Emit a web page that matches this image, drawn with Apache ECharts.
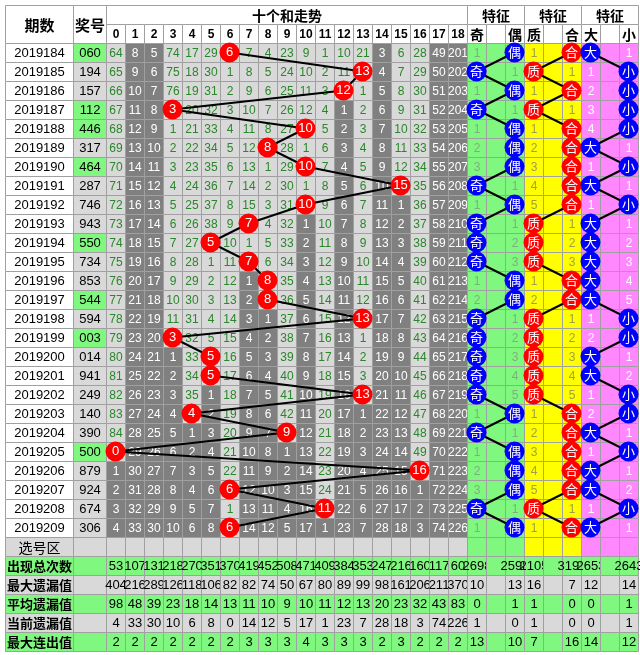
<!DOCTYPE html>
<html><head><meta charset="utf-8">
<script src="https://cdn.jsdelivr.net/npm/echarts@6/dist/echarts.min.js"></script>
<style>html,body{margin:0;padding:0;background:#fff}#c{width:640px;height:655px}</style>
</head><body><div id="c"></div>
<script>
// ---------------- data ----------------
const periods = ['2019184','2019185','2019186','2019187','2019188','2019189','2019190','2019191','2019192','2019193','2019194','2019195','2019196','2019197','2019198','2019199','2019200','2019201','2019202','2019203','2019204','2019205','2019206','2019207','2019208','2019209'];
const draws = ['060','194','157','112','446','317','464','287','746','943','550','734','853','544','594','003','014','941','249','140','390','500','879','924','674','306'];
const sums = [6,13,12,3,10,8,10,15,10,7,5,7,8,8,13,3,5,5,13,4,9,0,16,6,11,6];
const sumCols = ['0','1','2','3','4','5','6','7','8','9','10','11','12','13','14','15','16','17','18'];
const omission = [
[64,8,5,74,17,29,0,7,4,23,9,1,10,21,3,6,28,49,201],
[65,9,6,75,18,30,1,8,5,24,10,2,11,0,4,7,29,50,202],
[66,10,7,76,19,31,2,9,6,25,11,3,0,1,5,8,30,51,203],
[67,11,8,0,20,32,3,10,7,26,12,4,1,2,6,9,31,52,204],
[68,12,9,1,21,33,4,11,8,27,0,5,2,3,7,10,32,53,205],
[69,13,10,2,22,34,5,12,0,28,1,6,3,4,8,11,33,54,206],
[70,14,11,3,23,35,6,13,1,29,0,7,4,5,9,12,34,55,207],
[71,15,12,4,24,36,7,14,2,30,1,8,5,6,10,0,35,56,208],
[72,16,13,5,25,37,8,15,3,31,0,9,6,7,11,1,36,57,209],
[73,17,14,6,26,38,9,0,4,32,1,10,7,8,12,2,37,58,210],
[74,18,15,7,27,0,10,1,5,33,2,11,8,9,13,3,38,59,211],
[75,19,16,8,28,1,11,0,6,34,3,12,9,10,14,4,39,60,212],
[76,20,17,9,29,2,12,1,0,35,4,13,10,11,15,5,40,61,213],
[77,21,18,10,30,3,13,2,0,36,5,14,11,12,16,6,41,62,214],
[78,22,19,11,31,4,14,3,1,37,6,15,12,0,17,7,42,63,215],
[79,23,20,0,32,5,15,4,2,38,7,16,13,1,18,8,43,64,216],
[80,24,21,1,33,0,16,5,3,39,8,17,14,2,19,9,44,65,217],
[81,25,22,2,34,0,17,6,4,40,9,18,15,3,20,10,45,66,218],
[82,26,23,3,35,1,18,7,5,41,10,19,16,0,21,11,46,67,219],
[83,27,24,4,0,2,19,8,6,42,11,20,17,1,22,12,47,68,220],
[84,28,25,5,1,3,20,9,7,0,12,21,18,2,23,13,48,69,221],
[0,29,26,6,2,4,21,10,8,1,13,22,19,3,24,14,49,70,222],
[1,30,27,7,3,5,22,11,9,2,14,23,20,4,25,15,0,71,223],
[2,31,28,8,4,6,0,12,10,3,15,24,21,5,26,16,1,72,224],
[3,32,29,9,5,7,1,13,11,4,16,0,22,6,27,17,2,73,225],
[4,33,30,10,6,8,0,14,12,5,17,1,23,7,28,18,3,74,226]
];
const featureCols = ['奇','奇偶空','偶','质','质合空','合','大','大小空','小'];
const featureHeads = ['奇','','偶','质','','合','大','','小'];
const oeHit = ['偶','奇','偶','奇','偶','偶','偶','奇','偶','奇','奇','奇','偶','偶','奇','奇','奇','奇','奇','偶','奇','偶','偶','偶','奇','偶'];
const oeMiss = [1,1,1,1,1,2,3,1,1,1,2,3,1,2,1,2,3,4,5,1,1,1,2,3,1,1];
const pcHit = ['合','质','合','质','合','合','合','合','合','质','质','质','合','合','质','质','质','质','质','合','合','合','合','合','质','合'];
const pcMiss = [1,1,1,1,1,2,3,4,5,1,2,3,1,2,1,2,3,4,5,1,2,3,4,5,1,1];
const bsHit = ['大','小','小','小','小','大','小','大','小','大','大','大','大','大','小','小','大','大','小','小','大','小','大','大','小','大'];
const bsMiss = [1,1,2,3,4,1,1,1,1,1,2,3,4,5,1,2,1,2,1,2,1,1,1,2,1,1];
const statLabels = ['出现总次数','最大遗漏值','平均遗漏值','当前遗漏值','最大连出值'];
// 0..18, then 奇 偶 质 合 大 小
const statTotal = [53,107,131,218,270,351,370,419,452,508,471,409,384,353,247,216,160,117,60, 2698,2598,2105,3191,2653,2643];
const statMaxMiss = [404,216,289,126,118,106,82,82,74,50,67,80,89,99,98,161,206,211,370, 10,13,16,7,12,14];
const statAvgMiss = [98,48,39,23,18,14,13,11,10,9,10,11,12,13,20,23,32,43,83, 0,1,1,0,0,1];
const statCurMiss = [4,33,30,10,6,8,0,14,12,5,17,1,23,7,28,18,3,74,226, 1,0,1,0,0,1];
const statMaxStreak = [2,2,2,2,2,2,2,3,3,3,4,3,3,3,2,3,2,2,2, 13,10,7,16,14,12];
const statRows = [statTotal, statMaxMiss, statAvgMiss, statCurMiss, statMaxStreak];

// ---------------- styles ----------------
const COL = {light:'#d9d9d9', dark:'#808080', green:'#80f880', yellow:'#ffff00', pink:'#ff88ff',
  white:'#ffffff', grid:'#a0a0a0', numText:'#2a862a', red:'#ff0000', blue:'#0000ff'};
const NUM = '"Liberation Sans", Arial, sans-serif';
const CJK = '"Noto Sans CJK SC", sans-serif';

const HEAD = 2;
const rowCats = ['表头1','表头2'].concat(periods, ['选号区'], statLabels);
const mainCols = sumCols.concat(featureCols);
const NS = sumCols.length;
const yPick = HEAD + periods.length;
const yStat = yPick + 1;

function groupBg(c){ return c < NS+3 ? COL.green : (c < NS+6 ? COL.yellow : COL.pink); }
function groupMissText(c){ return c < NS+3 ? '#7fae7f' : (c < NS+6 ? '#a0a040' : '#ffffff'); }

// ---------------- cells ----------------
const cells0 = [], cells1 = [], cells2 = [];
function cell(arr, x0, y0, x1, y1, text, bg, fg, font, align){
  arr.push({x0, y0, x1, y1, text: text === undefined ? '' : String(text), bg, fg: fg || '#000', font: font || ('12px ' + NUM), align: align || 'center'});
}
cell(cells0, 0, 0, 0, 1, '期数', COL.white, '#000', 'bold 15px ' + CJK);
periods.forEach((p, i) => cell(cells0, 0, HEAD+i, 0, HEAD+i, p, COL.white, '#000', '13px ' + NUM));
cell(cells0, 0, yPick, 0, yPick, '选号区', COL.light, '#000', '14px ' + CJK);
statLabels.forEach((s, k) => cell(cells0, 0, yStat+k, 0, yStat+k, s, k % 2 === 0 ? COL.green : COL.light, '#000', 'bold 13px ' + CJK, 'left'));
cell(cells1, 0, 0, 0, 1, '奖号', COL.white, '#000', 'bold 15px ' + CJK);
draws.forEach((d, i) => {
  const rep = new Set(d.split('')).size < 3;
  cell(cells1, 0, HEAD+i, 0, HEAD+i, d, rep ? COL.green : COL.light, '#000', '13px ' + NUM);
});
cell(cells1, 0, yPick, 0, yPick, '', COL.light);
statLabels.forEach((s, k) => cell(cells1, 0, yStat+k, 0, yStat+k, '', k % 2 === 0 ? COL.green : COL.light));
cell(cells2, 0, 0, NS-1, 0, '十个和走势', COL.white, '#000', 'bold 14px ' + CJK);
for (let g = 0; g < 3; g++) cell(cells2, NS+g*3, 0, NS+g*3+2, 0, '特征', COL.white, '#000', 'bold 14px ' + CJK);
sumCols.forEach((s, c) => cell(cells2, c, 1, c, 1, s, COL.white, '#000', 'bold 12px ' + NUM));
featureHeads.forEach((s, j) => cell(cells2, NS+j, 1, NS+j, 1, s, COL.white, '#000', 'bold 14px ' + CJK));
const lastHit = sumCols.map((_, c) => { let l = -1; sums.forEach((s, r) => { if (s === c) l = r; }); return l; });
omission.forEach((row, r) => {
  row.forEach((v, c) => {
    const y = HEAD + r;
    if (sums[r] === c) { cell(cells2, c, y, c, y, '', COL.light); return; }
    const dark = r > lastHit[c];
    cell(cells2, c, y, c, y, v, dark ? COL.dark : COL.light, dark ? '#ffffff' : COL.numText, '12px ' + NUM);
  });
  const groups = [[oeHit, oeMiss, ['奇','偶']], [pcHit, pcMiss, ['质','合']], [bsHit, bsMiss, ['大','小']]];
  groups.forEach((g, gi) => {
    const base = NS + gi*3;
    const hitLeft = g[0][r] === g[2][0];
    for (let j = 0; j < 3; j++) {
      const c = base + j;
      let t = '';
      if (j === 0 && !hitLeft) t = g[1][r];
      if (j === 2 && hitLeft) t = g[1][r];
      cell(cells2, c, HEAD+r, c, HEAD+r, t, groupBg(c), groupMissText(c), '12px ' + NUM);
    }
  });
});
for (let c = 0; c < mainCols.length; c++) cell(cells2, c, yPick, c, yPick, '', c < NS ? COL.light : groupBg(c));
const featStatIdx = [NS, NS+2, NS+3, NS+5, NS+6, NS+8];
statRows.forEach((vals, k) => {
  const bg = k % 2 === 0 ? COL.green : COL.light;
  for (let c = 0; c < mainCols.length; c++) {
    let t = '';
    if (c < NS) t = vals[c];
    else { const fi = featStatIdx.indexOf(c); if (fi >= 0) t = vals[NS+fi]; }
    cell(cells2, c, yStat+k, c, yStat+k, t, bg, '#000', '13px ' + NUM);
  }
});

function makeRender(cells){
  return function(params, api){
    const c = cells[params.dataIndex];
    const a = api.coord([c.x0, c.y0]);
    const b = api.coord([c.x1, c.y1]);
    const s = api.size([1, 1]);
    const x = Math.round(Math.min(a[0], b[0]) - s[0]/2) + 0.5;
    const y = Math.round(Math.min(a[1], b[1]) - s[1]/2) + 0.5;
    const w = Math.round(Math.abs(b[0]-a[0]) + s[0]);
    const h = Math.round(Math.abs(b[1]-a[1]) + s[1]);
    const children = [{type:'rect', shape:{x, y, width:w, height:h}, style:{fill:c.bg, stroke:COL.grid, lineWidth:1}}];
    if (c.text !== '') {
      children.push({type:'text', style:{text:c.text, x: c.align === 'left' ? x + 1.5 : x + w/2, y: y + h/2 + 0.5,
        align:c.align, verticalAlign:'middle', fill:c.fg, font:c.font}});
    }
    return {type:'group', children};
  };
}

function cellSeries(cells, idx){
  return {type:'custom', xAxisIndex:idx, yAxisIndex:idx, z:1, silent:true, animation:false,
    renderItem: makeRender(cells), data: cells.map((c, i) => [c.x0, c.y0, i])};
}
function pathSeries(pts){
  return {type:'line', xAxisIndex:2, yAxisIndex:2, z:4, silent:true, animation:false, symbol:'none',
    lineStyle:{color:'#000', width:2}, data: pts};
}
function dotSeries(items, color, font){
  return {type:'scatter', xAxisIndex:2, yAxisIndex:2, z:6, silent:true, animation:false, symbolSize:20,
    itemStyle:{color, opacity:1}, label:{show:true, position:'inside', formatter:'{b}', color:'#fff', fontSize:13, fontFamily:font},
    data: items};
}
const sumPts = sums.map((s, r) => [s, HEAD+r]);
const oeX = v => NS + (v === '奇' ? 0 : 2);
const pcX = v => NS + 3 + (v === '质' ? 0 : 2);
const bsX = v => NS + 6 + (v === '大' ? 0 : 2);
const oePts = oeHit.map((v, r) => [oeX(v), HEAD+r]);
const pcPts = pcHit.map((v, r) => [pcX(v), HEAD+r]);
const bsPts = bsHit.map((v, r) => [bsX(v), HEAD+r]);

const gridTop = 5, rowH = 19;
const option = {
  animation:false,
  backgroundColor:'#ffffff',
  grid:[
    {left:5, top:gridTop, width:68, height:rowH*rowCats.length},
    {left:73, top:gridTop, width:33, height:rowH*rowCats.length},
    {left:106, top:gridTop, width:19*mainCols.length, height:rowH*rowCats.length}
  ],
  xAxis:[
    {gridIndex:0, type:'category', data:['期数'], show:false},
    {gridIndex:1, type:'category', data:['奖号'], show:false},
    {gridIndex:2, type:'category', data:mainCols, show:false}
  ],
  yAxis:[0,1,2].map(i => ({gridIndex:i, type:'category', data:rowCats, inverse:true, show:false})),
  series:[
    cellSeries(cells0, 0), cellSeries(cells1, 1), cellSeries(cells2, 2),
    pathSeries(sumPts), pathSeries(oePts), pathSeries(pcPts), pathSeries(bsPts),
    dotSeries(sums.map((s, r) => ({name:String(s), value:[s, HEAD+r]})), COL.red, NUM),
    dotSeries(oeHit.map((v, r) => ({name:v, value:[oeX(v), HEAD+r]})), COL.blue, CJK),
    dotSeries(pcHit.map((v, r) => ({name:v, value:[pcX(v), HEAD+r]})), COL.red, CJK),
    dotSeries(bsHit.map((v, r) => ({name:v, value:[bsX(v), HEAD+r]})), COL.blue, CJK)
  ]
};
const chart = echarts.init(document.getElementById('c'));
chart.setOption(option);
</script></body></html>
